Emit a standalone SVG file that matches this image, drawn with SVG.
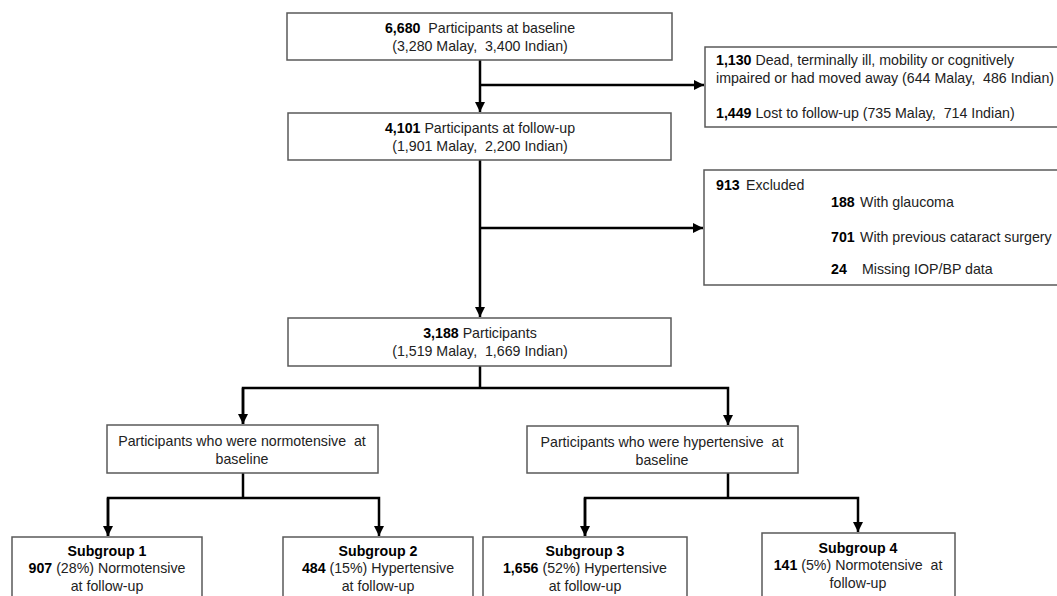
<svg xmlns="http://www.w3.org/2000/svg" width="1057" height="596" viewBox="0 0 1057 596">
<defs>
<marker id="ah" viewBox="0 0 10 10" refX="10" refY="5" markerWidth="4" markerHeight="4" orient="auto" markerUnits="strokeWidth">
<path d="M0,0 L10,5 L0,10 z" fill="#000"/>
</marker>
<style>
.box{fill:#fff;stroke:#595959;stroke-width:1.5}
.t{font-family:"Liberation Sans",Arial,sans-serif;font-size:14.2px;fill:#222;white-space:pre}
.c{text-anchor:middle}
.b{font-weight:bold;fill:#000}
.ln{fill:none;stroke:#000;stroke-width:2.5}
</style>
</defs>
<rect width="1057" height="596" fill="#fff"/>
<g id="connectors">
<line class="ln" x1="480" y1="60" x2="480" y2="112" marker-end="url(#ah)"/>
<line class="ln" x1="480" y1="85" x2="704" y2="85" marker-end="url(#ah)"/>
<line class="ln" x1="480" y1="160" x2="480" y2="317" marker-end="url(#ah)"/>
<line class="ln" x1="480" y1="228" x2="703" y2="228" marker-end="url(#ah)"/>
<polyline class="ln" points="480,366 480,388"/>
<polyline class="ln" points="243,424 243,388 728,388 728,425" marker-end="url(#ah)"/>
<line class="ln" x1="243" y1="388" x2="243" y2="424" marker-end="url(#ah)"/>
<polyline class="ln" points="243,473 243,498"/>
<polyline class="ln" points="108,536 108,498 379,498 379,536" marker-end="url(#ah)"/>
<line class="ln" x1="108" y1="498" x2="108" y2="536" marker-end="url(#ah)"/>
<polyline class="ln" points="728,473 728,498"/>
<polyline class="ln" points="585,536 585,498 858,498 858,532" marker-end="url(#ah)"/>
<line class="ln" x1="585" y1="498" x2="585" y2="536" marker-end="url(#ah)"/>
</g>
<g id="baseline">
<rect class="box" x="287" y="13" width="385" height="47"/>
<text class="t c" x="480" y="33" xml:space="preserve"><tspan class="b">6,680</tspan>  Participants at baseline</text>
<text class="t c" x="480" y="51" xml:space="preserve">(3,280 Malay,  3,400 Indian)</text>
</g>
<g id="lost">
<rect class="box" x="705" y="47" width="360" height="80"/>
<text class="t" x="716" y="65"><tspan class="b">1,130</tspan> Dead, terminally ill, mobility or cognitively</text>
<text class="t" x="716" y="83" xml:space="preserve">impaired or had moved away (644 Malay,  486 Indian)</text>
<text class="t" x="716" y="118" xml:space="preserve"><tspan class="b">1,449</tspan> Lost to follow-up (735 Malay,  714 Indian)</text>
</g>
<g id="followup">
<rect class="box" x="288" y="113" width="383" height="47"/>
<text class="t c" x="480" y="133"><tspan class="b">4,101</tspan> Participants at follow-up</text>
<text class="t c" x="480" y="151" xml:space="preserve">(1,901 Malay,  2,200 Indian)</text>
</g>
<g id="excluded">
<rect class="box" x="704" y="170" width="360" height="115"/>
<text class="t" x="716" y="190"><tspan class="b">913</tspan><tspan x="746">Excluded</tspan></text>
<text class="t" x="831" y="207"><tspan class="b">188</tspan><tspan x="860">With glaucoma</tspan></text>
<text class="t" x="831" y="242"><tspan class="b">701</tspan><tspan x="860">With previous cataract surgery</tspan></text>
<text class="t" x="831" y="274"><tspan class="b">24</tspan><tspan x="862">Missing IOP/BP data</tspan></text>
</g>
<g id="participants">
<rect class="box" x="288" y="318" width="383" height="48"/>
<text class="t c" x="480" y="338"><tspan class="b">3,188</tspan> Participants</text>
<text class="t c" x="480" y="356" xml:space="preserve">(1,519 Malay,  1,669 Indian)</text>
</g>
<g id="normo">
<rect class="box" x="107" y="425" width="271" height="48"/>
<text class="t c" x="242" y="446" xml:space="preserve">Participants who were normotensive  at</text>
<text class="t c" x="242" y="464">baseline</text>
</g>
<g id="hyper">
<rect class="box" x="527" y="426" width="271" height="47"/>
<text class="t c" x="662" y="447" xml:space="preserve">Participants who were hypertensive  at</text>
<text class="t c" x="662" y="465">baseline</text>
</g>
<g id="sub1">
<rect class="box" x="12" y="537" width="190" height="70"/>
<text class="t c b" x="107" y="556">Subgroup 1</text>
<text class="t c" x="107" y="573"><tspan class="b">907</tspan> (28%) Normotensive</text>
<text class="t c" x="107" y="591">at follow-up</text>
</g>
<g id="sub2">
<rect class="box" x="283" y="537" width="190" height="70"/>
<text class="t c b" x="378" y="556">Subgroup 2</text>
<text class="t c" x="378" y="573"><tspan class="b">484</tspan> (15%) Hypertensive</text>
<text class="t c" x="378" y="591">at follow-up</text>
</g>
<g id="sub3">
<rect class="box" x="483" y="537" width="204" height="70"/>
<text class="t c b" x="585" y="556">Subgroup 3</text>
<text class="t c" x="585" y="573"><tspan class="b">1,656</tspan> (52%) Hypertensive</text>
<text class="t c" x="585" y="591">at follow-up</text>
</g>
<g id="sub4">
<rect class="box" x="762" y="533" width="193" height="70"/>
<text class="t c b" x="858" y="553">Subgroup 4</text>
<text class="t c" x="858" y="570" xml:space="preserve"><tspan class="b">141</tspan> (5%) Normotensive  at</text>
<text class="t c" x="858" y="588">follow-up</text>
</g>
</svg>
